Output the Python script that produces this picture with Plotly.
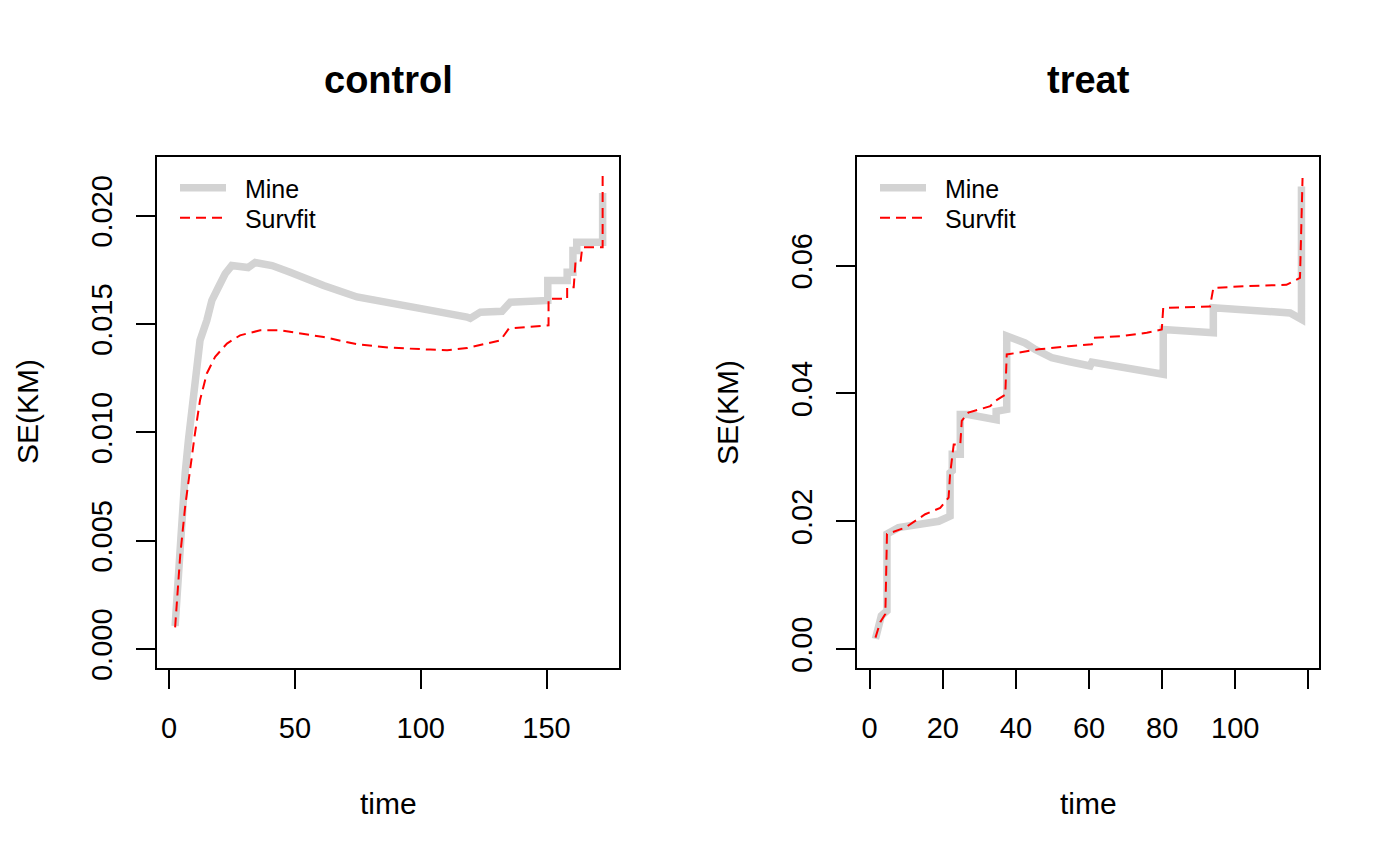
import plotly.graph_objects as go

# ---------------- data ----------------
ctrl_mine_t = [2.4, 3.7, 5.05, 6.4, 7.7, 9.0, 11.0, 12.3, 15.0, 17.0, 19.6, 22.3, 24.9, 31.4, 34.2,
               40.9, 48.1, 54.1, 61.4, 74.7, 87.9, 94.5, 107.8, 118.4, 119.7, 123.7, 132.3, 135.6,
               148.0, 150.5, 150.5, 158.2, 158.2, 160.5, 160.5, 162.0, 162.0, 172.3, 172.3]
ctrl_mine_se = [0.00107, 0.00353, 0.00583, 0.00812, 0.00966, 0.01119, 0.01272, 0.01425, 0.01517,
                0.01609, 0.01670, 0.01732, 0.01770, 0.01761, 0.01784, 0.01770, 0.01739, 0.01710,
                0.01678, 0.01625, 0.01594, 0.01579, 0.01555, 0.01532, 0.01526, 0.01555, 0.01559,
                0.01601, 0.01609, 0.01609, 0.01701, 0.01701, 0.01739, 0.01739, 0.01839, 0.01839,
                0.01877, 0.01877, 0.02105]

ctrl_surv_t = [2.4, 4.4, 6.4, 8.4, 10.3, 12.3, 15.0, 18.3, 23.0, 28.2, 36.2, 44.2, 52.1, 61.4, 74.7,
               87.9, 103.8, 110.5, 118.4, 123.7, 131.7, 135.0, 148.2, 150.8, 150.8, 158.2, 158.2,
               160.8, 161.5, 163.5, 164.2, 172.3, 172.3]
ctrl_surv_se = [0.00100, 0.00429, 0.00659, 0.00843, 0.00996, 0.01149, 0.01272, 0.01349, 0.01410,
                0.01448, 0.01471, 0.01471, 0.01456, 0.01440, 0.01407, 0.01391, 0.01382, 0.01379,
                0.01389, 0.01402, 0.01425, 0.01479, 0.01494, 0.01494, 0.01617, 0.01617, 0.01670,
                0.01670, 0.01785, 0.01785, 0.01854, 0.01854, 0.02184]

treat_mine_t = [1.6, 2.5, 3.2, 4.75, 4.75, 7.9, 14.3, 18.9, 22.0, 22.0, 22.6, 22.6, 24.8, 24.8, 27.0,
                34.6, 34.6, 37.5, 37.5, 42.5, 45.3, 49.8, 54.4, 57.6, 60.3, 60.8, 69.4, 75.8, 80.3,
                80.3, 87.6, 94.0, 94.0, 103.1, 108.6, 115.0, 118.1, 118.1]
treat_mine_se = [0.0016, 0.0039, 0.0052, 0.0060, 0.0180, 0.0190, 0.0195, 0.0200, 0.0208, 0.0276,
                 0.0279, 0.0305, 0.0305, 0.0367, 0.0367, 0.0359, 0.0372, 0.0375, 0.0490, 0.0479,
                 0.0469, 0.0456, 0.0450, 0.0447, 0.0443, 0.0449, 0.0440, 0.0432, 0.0430, 0.0500,
                 0.0497, 0.0495, 0.0534, 0.0531, 0.0529, 0.0526, 0.0516, 0.0724]

treat_surv_t = [1.6, 2.9, 4.3, 4.75, 9.75, 15.2, 19.3, 21.6, 22.0, 23.0, 24.8, 25.2, 27.0, 33.0, 34.3,
                37.1, 37.5, 46.2, 54.4, 60.8, 61.2, 69.4, 75.8, 79.9, 80.3, 93.1, 94.0, 103.1, 114.0,
                117.7, 118.4]
treat_surv_se = [0.0018, 0.0042, 0.0055, 0.0180, 0.0190, 0.0211, 0.0221, 0.0237, 0.0273, 0.0320,
                 0.0320, 0.0357, 0.0370, 0.0380, 0.0388, 0.0398, 0.0461, 0.0469, 0.0474, 0.0477,
                 0.0487, 0.0490, 0.0495, 0.0500, 0.0534, 0.0536, 0.0565, 0.0568, 0.0570, 0.0581,
                 0.0737]

panel_titles = ["control", "treat"]
series_names = ["Mine", "Survfit"]
ctrl_xticks = [0, 50, 100, 150]
ctrl_yticks = [0.000, 0.005, 0.010, 0.015, 0.020]
treat_xticks = [0, 20, 40, 60, 80, 100, 120]
treat_xlabels = ["0", "20", "40", "60", "80", "100", ""]
treat_yticks = [0.00, 0.02, 0.04, 0.06]

# ---------------- styling ----------------
FONT = "Liberation Sans, Arial, Helvetica, sans-serif"
GRAY = "#D3D3D3"
RED = "#FF0000"
W, H = 1400, 865
PAD = "\u00a0\u00a0"

fig = go.Figure()

def add_panel(t1, s1, t2, s2, xa, ya, leg_a, leg_b):
    fig.add_trace(go.Scatter(x=t1, y=s1, mode="lines", name=PAD + series_names[0],
                             line=dict(color=GRAY, width=7.5), xaxis=xa, yaxis=ya,
                             legend=leg_a))
    fig.add_trace(go.Scatter(x=t2, y=s2, mode="lines", name=PAD + series_names[1],
                             line=dict(color=RED, width=2, dash="10px,6px"), xaxis=xa, yaxis=ya,
                             legend=leg_b))

add_panel(ctrl_mine_t, ctrl_mine_se, ctrl_surv_t, ctrl_surv_se, "x", "y", "legend", "legend2")
add_panel(treat_mine_t, treat_mine_se, treat_surv_t, treat_surv_se, "x2", "y2", "legend3", "legend4")

ydom = [1 - 668 / H, 1 - 157 / H]
xdom1 = [157 / W, 619 / W]
xdom2 = [857 / W, 1319 / W]

axis_common = dict(showgrid=False, zeroline=False, showline=True, mirror=True,
                   linecolor="black", linewidth=1.6, ticks="outside", ticklen=19,
                   tickwidth=1.6, tickcolor="black", automargin=False,
                   tickfont=dict(family=FONT, size=29, color="black"))

legend_common = dict(xanchor="left", yanchor="middle", bgcolor="rgba(0,0,0,0)", borderwidth=0,
                     font=dict(family=FONT, size=25, color="black"), tracegroupgap=0,
                     itemwidth=46)

fig.update_layout(
    width=W, height=H, template="none",
    paper_bgcolor="white", plot_bgcolor="white",
    margin=dict(l=0, r=0, t=0, b=0),
    xaxis=dict(domain=xdom1, anchor="y", range=[-4.8, 178.8], tickmode="array",
               tickvals=ctrl_xticks, ticklabelstandoff=14, **axis_common),
    yaxis=dict(domain=ydom, anchor="x", range=[-0.000874, 0.02271], tickmode="array",
               tickvals=ctrl_yticks, tickformat=".3f", tickangle=-90,
               ticklabelstandoff=13, **axis_common),
    xaxis2=dict(domain=xdom2, anchor="y2", range=[-3.45, 122.9], tickmode="array",
                tickvals=treat_xticks, ticktext=treat_xlabels, ticklabelstandoff=14,
                **axis_common),
    yaxis2=dict(domain=ydom, anchor="x2", range=[-0.00296, 0.0770], tickmode="array",
                tickvals=treat_yticks, tickformat=".2f", tickangle=-90,
                ticklabelstandoff=13, **axis_common),
    legend=dict(x=175 / W, y=1 - 188 / H, **legend_common),
    legend2=dict(x=175 / W, y=1 - 218 / H, **legend_common),
    legend3=dict(x=875 / W, y=1 - 188 / H, **legend_common),
    legend4=dict(x=875 / W, y=1 - 218 / H, **legend_common),
    showlegend=True,
)

annots = []
for title, xd in zip(panel_titles, [xdom1, xdom2]):
    xc = (xd[0] + xd[1]) / 2
    annots.append(dict(text="<b>%s</b>" % title, x=xc, y=1 - 80 / H, xref="paper", yref="paper",
                       showarrow=False, xanchor="center", yanchor="middle",
                       font=dict(family=FONT, size=38, color="black")))
    annots.append(dict(text="time", x=xc, y=1 - 803 / H, xref="paper", yref="paper",
                       showarrow=False, xanchor="center", yanchor="middle",
                       font=dict(family=FONT, size=30, color="black")))
for xpix in [27, 727]:
    annots.append(dict(text="SE(KM)", x=xpix / W, y=1 - 412 / H, xref="paper", yref="paper",
                       showarrow=False, xanchor="center", yanchor="middle", textangle=-90,
                       font=dict(family=FONT, size=30, color="black")))
fig.update_layout(annotations=annots)

fig.write_html("out.html", config={"displayModeBar": False},
               post_script="document.body.style.margin='0px';")
